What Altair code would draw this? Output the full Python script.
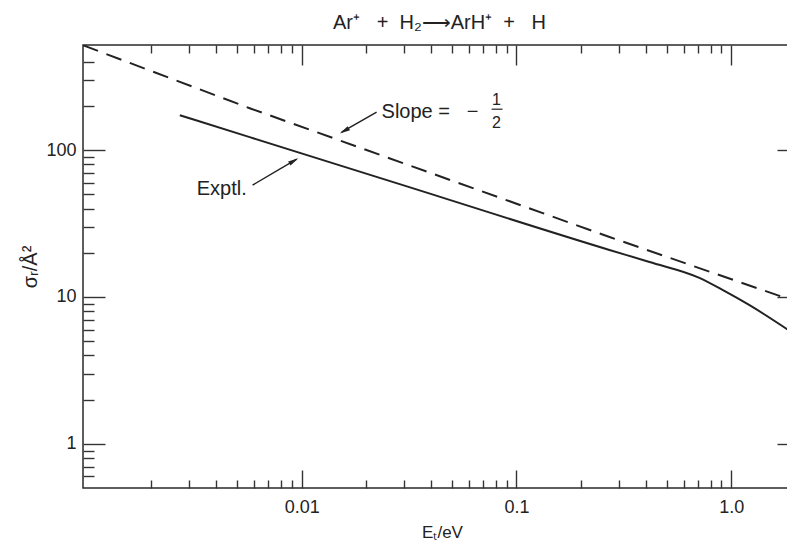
import altair as alt
import pandas as pd

# ---------------- data ----------------
# dashed reference line (slope -1/2)
dash_x = [0.00096, 0.00573, 0.271, 2.0]
dash_y = [518, 193, 25.6, 9.3]

# experimental curve
expt_x = [0.00271, 0.00573, 0.0286, 0.271, 0.416, 0.71, 0.928, 1.21, 2.0]
expt_y = [173, 122.6, 58.7, 20.9, 17.3, 13.5, 11.0, 8.83, 5.5]

# axis ticks
x_major = [0.01, 0.1, 1.0]
x_major_labels = ["0.01", "0.1", "1.0"]
x_minor = [0.002, 0.003, 0.004, 0.005, 0.006, 0.007, 0.008, 0.009,
           0.02, 0.03, 0.04, 0.05, 0.06, 0.07, 0.08, 0.09,
           0.2, 0.3, 0.4, 0.5, 0.6, 0.7, 0.8, 0.9]
y_major = [1, 10, 100]
y_major_labels = ["1", "10", "100"]
y_minor = [0.6, 0.7, 0.8, 0.9,
           2, 3, 4, 5, 6, 7, 8, 9,
           20, 30, 40, 50, 60, 70, 80, 90,
           200, 300, 400]

x_domain = [0.00096, 2.0]
y_domain = [0.5, 520]

NB = "\u00a0"
# annotations
left_text = ["Slope =" + NB * 3 + "\u2212", "Exptl."]
left_text_x = [0.02355, 0.00325]
left_text_y = [182, 54.3]

frac_text = ["1", "2"]
frac_x = [0.0807, 0.0807]
frac_y = [219, 153.9]
frac_bar_x = [0.0766]
frac_bar_x2 = [0.0861]
frac_bar_y = [190]

arrow_id = ["slope", "slope", "exptl", "exptl"]
arrow_x = [0.02233, 0.01535, 0.00591, 0.00948]
arrow_y = [181.4, 132.6, 57.8, 86.9]
head_x = [0.0158, 0.0092]
head_y = [135.3, 84.6]
head_angle = [239.5, 59.4]

title_text = ("Ar\u207a" + NB * 3 + "+" + NB * 2 + "H\u2082\u27f6ArH\u207a"
              + NB * 2 + "+" + NB * 3 + "H")

# ---------------- chart ----------------
W, H = 713, 443
FONT = "Liberation Sans"
INK = "#222222"

xs = alt.Scale(type="log", domain=x_domain, nice=False, zero=False)
ys = alt.Scale(type="log", domain=y_domain, nice=False, zero=False)

dash_df = pd.DataFrame({"x": dash_x, "y": dash_y})
expt_df = pd.DataFrame({"x": expt_x, "y": expt_y})
ltext_df = pd.DataFrame({"x": left_text_x, "y": left_text_y, "t": left_text})
frac_df = pd.DataFrame({"x": frac_x, "y": frac_y, "t": frac_text})
bar_df = pd.DataFrame({"x": frac_bar_x, "x2": frac_bar_x2, "y": frac_bar_y})
arrow_df = pd.DataFrame({"id": arrow_id, "x": arrow_x, "y": arrow_y})
head_df = pd.DataFrame({"x": head_x, "y": head_y, "a": head_angle})


def expr_for(values, labels):
    e = "''"
    for v, l in zip(values, labels):
        e = f"abs(datum.value - {v}) < {v}*1e-6 ? '{l}' : ({e})"
    return e


def tick_axis(orient, offset, values, size):
    return alt.Axis(orient=orient, offset=offset, values=values, labels=False,
                    domain=False, grid=False, ticks=True, tickSize=size,
                    tickWidth=1.4, tickColor="#333333", title=None)


x_label_axis = alt.Axis(
    orient="bottom", values=x_major, labelExpr=expr_for(x_major, x_major_labels),
    ticks=False, domain=False, grid=False, labelFont=FONT, labelFontSize=18,
    labelColor=INK, labelPadding=10, labelFlush=False, labelOverlap=False,
    title="E\u209c/eV", titleFont=FONT, titleFontSize=17, titleFontWeight="normal",
    titleColor=INK, titleX=359, titleY=44, titleBaseline="middle", titleAlign="center",
)
y_label_axis = alt.Axis(
    orient="left", values=y_major, labelExpr=expr_for(y_major, y_major_labels),
    ticks=False, domain=False, grid=False, labelFont=FONT, labelFontSize=18,
    labelColor=INK, labelPadding=7, labelFlush=False, labelOverlap=False,
    title="\u03c3\u1d63/\u00c5\u00b2", titleFont=FONT, titleFontSize=20,
    titleFontWeight="normal", titleColor=INK, titleAngle=270, titleX=-53,
    titleY=H / 2, titleBaseline="middle", titleAlign="center",
)

axis_pairs = [
    (x_label_axis, y_label_axis),
    (tick_axis("top", -H, x_major, 18), tick_axis("right", -W, y_major, 22)),
    (tick_axis("top", -H, x_minor, 8), tick_axis("right", -W, y_minor, 11)),
    (tick_axis("bottom", -H, x_major, 20), tick_axis("left", -W, y_major, 19)),
    (tick_axis("bottom", -H, x_minor, 8), tick_axis("left", -W, y_minor, 8)),
]

axis_layers = [
    alt.Chart(dash_df).mark_point(opacity=0).encode(
        x=alt.X("x:Q", scale=xs, axis=xa),
        y=alt.Y("y:Q", scale=ys, axis=ya),
    )
    for xa, ya in axis_pairs
]

dashed = alt.Chart(dash_df).mark_line(
    color=INK, strokeWidth=2, strokeDash=[16, 9], clip=True
).encode(x=alt.X("x:Q", scale=xs, axis=None), y=alt.Y("y:Q", scale=ys, axis=None))

solid = alt.Chart(expt_df).mark_line(
    color=INK, strokeWidth=2, interpolate="monotone", clip=True
).encode(x=alt.X("x:Q", scale=xs, axis=None), y=alt.Y("y:Q", scale=ys, axis=None))

ltext = alt.Chart(ltext_df).mark_text(
    align="left", baseline="middle", font=FONT, fontSize=20, color=INK
).encode(x=alt.X("x:Q", scale=xs, axis=None), y=alt.Y("y:Q", scale=ys, axis=None), text="t:N")

ftext = alt.Chart(frac_df).mark_text(
    align="center", baseline="middle", font=FONT, fontSize=16, color=INK
).encode(x=alt.X("x:Q", scale=xs, axis=None), y=alt.Y("y:Q", scale=ys, axis=None), text="t:N")

fbar = alt.Chart(bar_df).mark_rule(color=INK, strokeWidth=1.2).encode(
    x=alt.X("x:Q", scale=xs, axis=None), x2="x2:Q", y=alt.Y("y:Q", scale=ys, axis=None)
)

arrows = alt.Chart(arrow_df).mark_line(color=INK, strokeWidth=1.5).encode(
    x=alt.X("x:Q", scale=xs, axis=None), y=alt.Y("y:Q", scale=ys, axis=None), detail="id:N"
)

heads = alt.Chart(head_df).mark_point(
    shape="M0,-1L0.45,1L-0.45,1Z", size=110, filled=True, color=INK, opacity=1
).encode(
    x=alt.X("x:Q", scale=xs, axis=None), y=alt.Y("y:Q", scale=ys, axis=None),
    angle=alt.Angle("a:Q", scale=None),
)

chart = alt.layer(
    *axis_layers, dashed, solid, ltext, ftext, fbar, arrows, heads
).resolve_axis(
    x="independent", y="independent"
).properties(
    width=W, height=H,
    autosize=alt.AutoSizeParams(type="none"),
    padding={"left": 75, "top": 37, "right": -9, "bottom": 52},
    title=alt.TitleParams(
        text=title_text, font=FONT, fontSize=20,
        fontWeight="normal", color=INK, anchor="middle", offset=13, dy=19,
        baseline="alphabetic",
    ),
).configure(background="white").configure_view(stroke="#2a2a2a", strokeWidth=1.5)

chart.save("out.html", embed_options={"renderer": "svg", "actions": False})
